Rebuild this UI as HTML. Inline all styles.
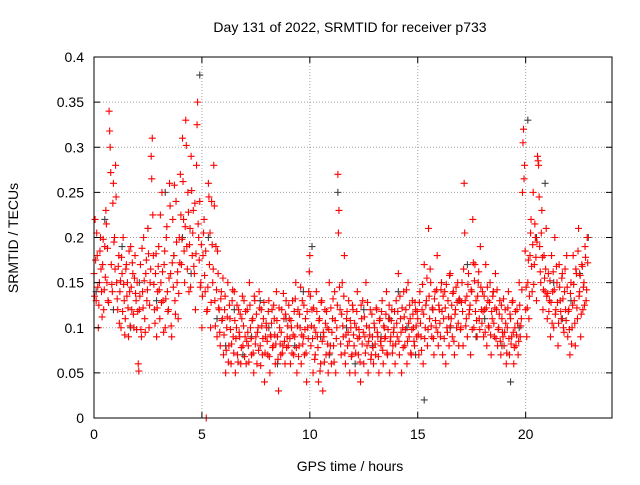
<!DOCTYPE html>
<html><head><meta charset="utf-8"><style>
body{margin:0;background:#fff;width:640px;height:480px;overflow:hidden}
svg text{font-family:"Liberation Sans",sans-serif;font-size:14px;fill:#000}
</style></head><body>
<svg id="chart" width="640" height="480" xmlns="http://www.w3.org/2000/svg">
<rect width="640" height="480" fill="#fff"/>
<text x="350" y="32" text-anchor="middle">Day 131 of 2022, SRMTID for receiver p733</text>
<text x="350" y="471" text-anchor="middle">GPS time / hours</text>
<text x="18" y="238" text-anchor="middle" transform="rotate(-90 18 238)">SRMTID / TECUs</text>
<g id="grid"></g><g id="gray"></g><g id="red"></g><g id="axes"></g>
</svg>
<script>
const xTicks=[0,5,10,15,20];
const yTicks=[0,0.05,0.1,0.15,0.2,0.25,0.3,0.35,0.4];
const yTickLabels=["0","0.05","0.1","0.15","0.2","0.25","0.3","0.35","0.4"];
const redStart=0, redStep=0.05;
const redValues=[
.16,.22,.13,.18,.10,.15,.20,.14,.17,.12,.19,.23,.15,.13,.34,.30,.17,.14,.26,.20,
.28,.15,.12,.18,.14,.10,.16,.20,.13,.11,.17,.15,.09,.14,.19,.12,.16,.10,.18,.13,
.15,.06,.12,.17,.09,.14,.20,.11,.16,.13,.21,.10,.15,.29,.31,.18,.12,.16,.09,.14,
.19,.11,.15,.25,.13,.17,.10,.20,.14,.12,.26,.16,.09,.22,.18,.13,.24,.15,.11,.20,
.27,.17,.31,.22,.15,.33,.19,.25,.14,.21,.29,.18,.23,.16,.12,.28,.35,.20,.24,.15,
.10,.18,.22,.14,0.0,.12,.26,.17,.10,.24,.15,.28,.13,.19,.09,.16,.12,.08,.14,.11,
.07,.12,.05,.10,.15,.08,.11,.06,.13,.09,.14,.05,.10,.07,.12,.09,.06,.11,.08,.13,
.09,.06,.12,.08,.15,.10,.07,.11,.05,.13,.09,.06,.10,.14,.08,.12,.07,.11,.04,.09,
.10,.07,.13,.05,.09,.12,.08,.11,.06,.14,.09,.03,.10,.07,.12,.08,.11,.06,.13,.09,
.08,.11,.06,.10,.13,.07,.09,.15,.05,.12,.08,.10,.06,.13,.09,.07,.11,.04,.10,.14,
.18,.08,.12,.05,.10,.07,.14,.09,.04,.11,.06,.13,.03,.09,.12,.07,.10,.05,.15,.08,
.06,.11,.08,.14,.05,.10,.27,.23,.12,.07,.15,.09,.18,.06,.11,.08,.13,.05,.10,.07,
.12,.08,.05,.10,.14,.07,.09,.04,.11,.13,.06,.09,.15,.08,.05,.10,.12,.07,.09,.06,
.10,.07,.12,.09,.05,.11,.08,.13,.06,.10,.09,.14,.07,.11,.05,.09,.12,.08,.10,.06,
.13,.09,.16,.07,.11,.05,.10,.14,.08,.12,.06,.15,.09,.11,.07,.13,.10,.08,.12,.09,
.11,.07,.14,.09,.12,.06,.17,.10,.13,.08,.21,.11,.15,.09,.12,.07,.14,.10,.18,.08,
.12,.09,.15,.07,.11,.14,.06,.10,.13,.08,.16,.11,.09,.14,.07,.12,.10,.15,.08,.13,
.10,.15,.08,.26,.13,.11,.09,.16,.12,.07,.14,.22,.10,.17,.13,.09,.15,.11,.19,.12,
.14,.09,.12,.17,.08,.13,.10,.15,.07,.11,.14,.09,.16,.12,.08,.10,.13,.07,.11,.09,
.08,.12,.06,.10,.14,.07,.11,.09,.13,.06,.10,.08,.12,.07,.15,.09,.11,.25,.32,.28,
.12,.09,.15,.11,.18,.22,.14,.25,.17,.20,.13,.29,.28,.19,.15,.23,.12,.18,.14,.21,
.11,.16,.13,.09,.18,.14,.10,.20,.12,.15,.08,.17,.13,.11,.16,.10,.14,.12,.18,.09,
.12,.07,.15,.10,.18,.13,.08,.16,.11,.21,.14,.09,.17,.12,.15,.19,.13,.20];
const red2Start=0.025, red2Step=0.05;
const red2Values=[
.135,.175,.205,.145,.125,.185,.165,.112,.198,.142,.156,.215,.188,.128,.318,.272,.148,.238,.195,.165,
.245,.132,.168,.105,.152,.178,.118,.148,.092,.165,.135,.122,.185,.102,.145,.172,.115,.155,.138,.098,
.118,.052,.135,.098,.188,.122,.152,.095,.175,.142,.182,.125,.165,.265,.225,.148,.105,.182,.122,.168,
.142,.225,.128,.162,.095,.185,.132,.212,.118,.155,.235,.102,.172,.145,.258,.115,.195,.162,.138,.172,
.225,.198,.262,.185,.212,.302,.165,.228,.192,.145,.252,.205,.168,.238,.182,.325,.215,.175,.145,.192,
.135,.205,.158,.185,.118,.145,.245,.205,.128,.192,.165,.235,.102,.142,.185,.122,.095,.132,.108,.155,
.092,.135,.075,.112,.062,.125,.098,.082,.142,.072,.108,.088,.125,.062,.095,.115,.078,.135,.102,.068,
.118,.085,.095,.062,.125,.088,.108,.072,.135,.082,.115,.095,.075,.122,.058,.102,.088,.128,.072,.105,
.085,.118,.068,.092,.105,.078,.125,.092,.082,.108,.065,.122,.082,.095,.072,.138,.085,.115,.078,.102,
.125,.088,.108,.072,.092,.118,.132,.078,.102,.068,.115,.145,.092,.082,.125,.098,.072,.118,.088,.162,
.135,.102,.088,.122,.065,.095,.118,.078,.108,.052,.128,.085,.095,.062,.105,.118,.082,.098,.072,.122,
.095,.132,.062,.108,.088,.125,.205,.145,.082,.115,.102,.135,.072,.092,.118,.095,.085,.108,.068,.125,
.092,.105,.072,.118,.088,.098,.062,.125,.082,.095,.112,.072,.102,.128,.085,.092,.065,.115,.078,.105,
.082,.122,.095,.068,.108,.085,.118,.075,.102,.088,.115,.072,.098,.125,.085,.108,.072,.095,.118,.082,
.105,.118,.085,.135,.095,.122,.078,.112,.098,.142,.085,.105,.125,.072,.098,.115,.085,.128,.102,.118,
.092,.128,.105,.075,.148,.115,.088,.125,.155,.098,.135,.165,.102,.122,.088,.132,.108,.142,.095,.125,
.105,.142,.118,.135,.088,.122,.148,.095,.112,.158,.102,.125,.138,.085,.115,.145,.128,.105,.132,.098,
.128,.118,.165,.205,.102,.135,.148,.115,.125,.142,.098,.172,.152,.118,.108,.135,.162,.098,.145,.105,
.118,.135,.095,.122,.145,.102,.128,.092,.118,.135,.105,.122,.088,.142,.098,.115,.085,.125,.095,.132,
.095,.105,.072,.122,.088,.115,.082,.128,.095,.078,.118,.092,.105,.085,.125,.102,.142,.305,.265,.185,
.145,.122,.175,.135,.205,.168,.192,.148,.215,.178,.195,.285,.245,.162,.205,.178,.142,.155,.165,.135,
.138,.118,.152,.128,.105,.162,.142,.115,.168,.128,.105,.145,.118,.155,.132,.095,.165,.108,.145,.118,
.098,.138,.082,.125,.148,.105,.165,.122,.185,.135,.158,.115,.168,.145,.125,.178,.142,.172];
const grayStart=0.1, grayStep=0.4;
const grayValues=[.14,.22,.12,.19,.10,.15,.21,.13,.25,.18,.20,.16,.38,.20,.11,.08,.12,.07,.09,.13,.10,.06,.11,.08,.14,.19,.09,.07,.25,.10,.06,.12,.08,.09,.11,.14,.10,.07,.02,.12,.15,.10,.13,.17,.09,.11,.14,.08,.04,.10,.33,.20,.26,.15,.11,.13,.16,.20];

const NS="http://www.w3.org/2000/svg";
const L=94,R=612,T=57,B=418;
const xs=t=>L+(t/24)*(R-L);
const ys=v=>B-(v/0.4)*(B-T);
function mk(tag,attrs,parent){const e=document.createElementNS(NS,tag);for(const k in attrs)e.setAttribute(k,attrs[k]);parent.appendChild(e);return e;}
const grid=document.getElementById('grid'),axes=document.getElementById('axes');
yTicks.forEach((v,i)=>{
  const y=ys(v);
  if(i>0&&i<yTicks.length-1){const g=mk('line',{x1:L,x2:R,y1:y,y2:y,stroke:'#a0a0a0','stroke-dasharray':'1,2'},grid);
  
  }
  mk('line',{x1:L,x2:L+6,y1:y,y2:y,stroke:'#000'},axes);
  mk('line',{x1:R,x2:R-6,y1:y,y2:y,stroke:'#000'},axes);
  const t=mk('text',{x:L-10,y:y+5,'text-anchor':'end'},axes);t.textContent=yTickLabels[i];
  
  
});
xTicks.forEach(v=>{
  const x=xs(v);
  if(v>0){const g=mk('line',{x1:x,x2:x,y1:T,y2:B,stroke:'#a0a0a0','stroke-dasharray':'1,2'},grid);
  
  }
  mk('line',{x1:x,x2:x,y1:B,y2:B-6,stroke:'#000'},axes);
  mk('line',{x1:x,x2:x,y1:T,y2:T+6,stroke:'#000'},axes);
  const t=mk('text',{x:x,y:B+21,'text-anchor':'middle'},axes);t.textContent=String(v);
  
  
});
const frame=mk('rect',{x:L,y:T,width:R-L,height:B-T,fill:'none',stroke:'#000'},axes);


function plus(parent,x,y,color,name){
  const p=mk('path',{d:`M${x-3.5},${y}H${x+3.5}M${x},${y-3.5}V${y+3.5}`,stroke:color,'stroke-width':1.1,fill:'none'},parent);
  
  
}
const gG=document.getElementById('gray'),gR=document.getElementById('red');
grayValues.forEach((v,i)=>plus(gG,xs(grayStart+i*grayStep),ys(v),'#404040','gray-point'));
redValues.forEach((v,i)=>plus(gR,xs(redStart+i*redStep),ys(v),'#ff0000','red-point'));
red2Values.forEach((v,i)=>plus(gR,xs(red2Start+i*red2Step),ys(v),'#ff0000','red-point'));
</script>
</body></html>
